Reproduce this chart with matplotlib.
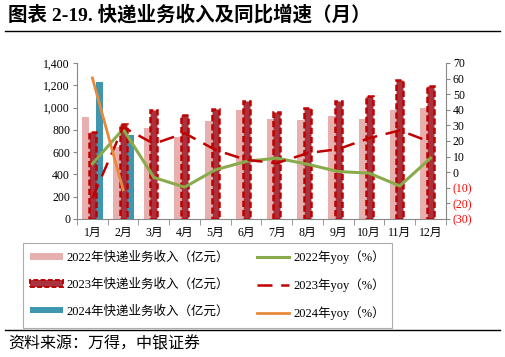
import matplotlib
matplotlib.use("Agg")
import matplotlib.pyplot as plt
from matplotlib.patches import Patch
from matplotlib.lines import Line2D
from matplotlib.ticker import FuncFormatter, MultipleLocator
import numpy as np

plt.rcParams['font.family'] = ['Liberation Serif', 'Noto Sans CJK SC']

months = ['1月', '2月', '3月', '4月', '5月', '6月', '7月', '8月', '9月', '10月', '11月', '12月']
rev_2022 = [915, 650, 817, 736, 876, 981, 900, 885, 927, 900, 981, 999]
rev_2023 = [778, 855, 975, 930, 987, 1056, 960, 996, 1062, 1101, 1244, 1197]
rev_2024 = [1226, 757]
yoy_2022 = [5.4, 27.6, -3.4, -9.6, 1.5, 6.9, 9.0, 5.1, 0.4, -0.6, -8.8, 9.0]
yoy_2023 = [-16.7, 28.9, 18.2, 25.0, 14.3, 7.9, 5.8, 12.2, 14.8, 21.8, 26.8, 19.3]
yoy_2024 = [60.4, -11.3]

c_2022 = '#E8AFAF'
c_2023 = '#A8323E'
c_2023_edge = '#C00000'
c_2024 = '#3E97AE'
c_green = '#8AAB4B'
c_red = '#C00000'
c_orange = '#E8893B'

fig = plt.figure(figsize=(5.05, 3.57), dpi=100)
ax = fig.add_axes([0.1525, 0.3866, 0.7305, 0.437])
ax2 = ax.twinx()

x = np.arange(len(months))
w = 0.23
ax.bar(x - 0.22, rev_2022, w, color=c_2022, zorder=2)
ax.bar(x, rev_2023, w, color=c_2023, edgecolor=c_2023_edge, linewidth=1.8,
       linestyle=(0, (2.5, 1.2)), zorder=3)
ax.bar(x[:len(rev_2024)] + 0.235, rev_2024, w, color=c_2024, zorder=2)

ax2.plot(x, yoy_2022, color=c_green, lw=2.2, zorder=4)
ax2.plot(x, yoy_2023, color=c_red, lw=1.8, linestyle=(0, (6, 3.5)), zorder=5)
ax2.plot(x[:len(yoy_2024)], yoy_2024, color=c_orange, lw=2.0, zorder=6)

ax.set_xlim(-0.5, 11.5)
ax.set_ylim(0, 1400)
ax.yaxis.set_major_locator(MultipleLocator(200))
ax.yaxis.set_major_formatter(FuncFormatter(lambda v, p: f'{int(v):,}'))
ax2.set_ylim(-30, 70)
ax2.yaxis.set_major_locator(MultipleLocator(10))
ax2.yaxis.set_major_formatter(FuncFormatter(lambda v, p: f'({abs(int(v))})' if v < 0 else f'{int(v)}'))

ax.set_xticks(x)
ax.set_xticklabels(months)
ax.set_xticks(np.arange(-0.5, 12, 1), minor=True)
ax.tick_params(axis='x', which='major', length=0, labelsize=8.5, pad=6)
ax.tick_params(axis='x', which='minor', length=4, color='#888888')
ax.tick_params(axis='y', labelsize=8.5, length=3, color='#888888', pad=2)
ax2.tick_params(axis='y', labelsize=8.5, length=3, color='#888888', pad=2)
for lab in ax2.get_yticklabels():
    if lab.get_text().startswith('('):
        lab.set_color('#FF0000')

for a in (ax, ax2):
    a.spines['top'].set_visible(False)
    for s in ('left', 'right', 'bottom'):
        a.spines[s].set_color('#888888')
        a.spines[s].set_linewidth(0.8)
ax.spines['right'].set_visible(False)
ax2.spines['left'].set_visible(False)
ax2.spines['bottom'].set_visible(False)

handles = [
    Patch(facecolor=c_2022, edgecolor='none'),
    Patch(facecolor=c_2023, edgecolor=c_2023_edge, linewidth=1.4, linestyle=(0, (2.5, 1.2))),
    Patch(facecolor=c_2024, edgecolor='none'),
    Line2D([], [], color=c_green, lw=2.2),
    Line2D([], [], color=c_red, lw=1.8, linestyle=(0, (6, 3.5))),
    Line2D([], [], color=c_orange, lw=2.0),
]
labels = ['2022年快递业务收入（亿元）', '2023年快递业务收入（亿元）',
          '2024年快递业务收入（亿元）', '2022年yoy（%）',
          '2023年yoy（%）', '2024年yoy（%）']
leg = fig.legend(handles, labels, ncol=2, loc='upper left',
                 bbox_to_anchor=(0.0455, 0.32),
                 fontsize=9, frameon=True, fancybox=False, edgecolor='#999999',
                 handlelength=2.6, handleheight=0.45, labelspacing=1.15,
                 handletextpad=0.3, borderpad=0.6, columnspacing=2.2,
                 borderaxespad=0)
leg.get_frame().set_linewidth(0.8)

fig.text(0.016, 0.958, '图表 2-19. 快递业务收入及同比增速（月）', fontsize=14,
         fontweight='bold', va='center', ha='left')
fig.add_artist(Line2D([0.01, 0.99], [0.913, 0.913], color='black', lw=1.0))
fig.add_artist(Line2D([0.01, 0.99], [0.076, 0.076], color='black', lw=1.0))
fig.text(0.016, 0.035, '资料来源：万得，中银证券', fontsize=11.5, va='center', ha='left')

fig.savefig('out.png', dpi=100)
